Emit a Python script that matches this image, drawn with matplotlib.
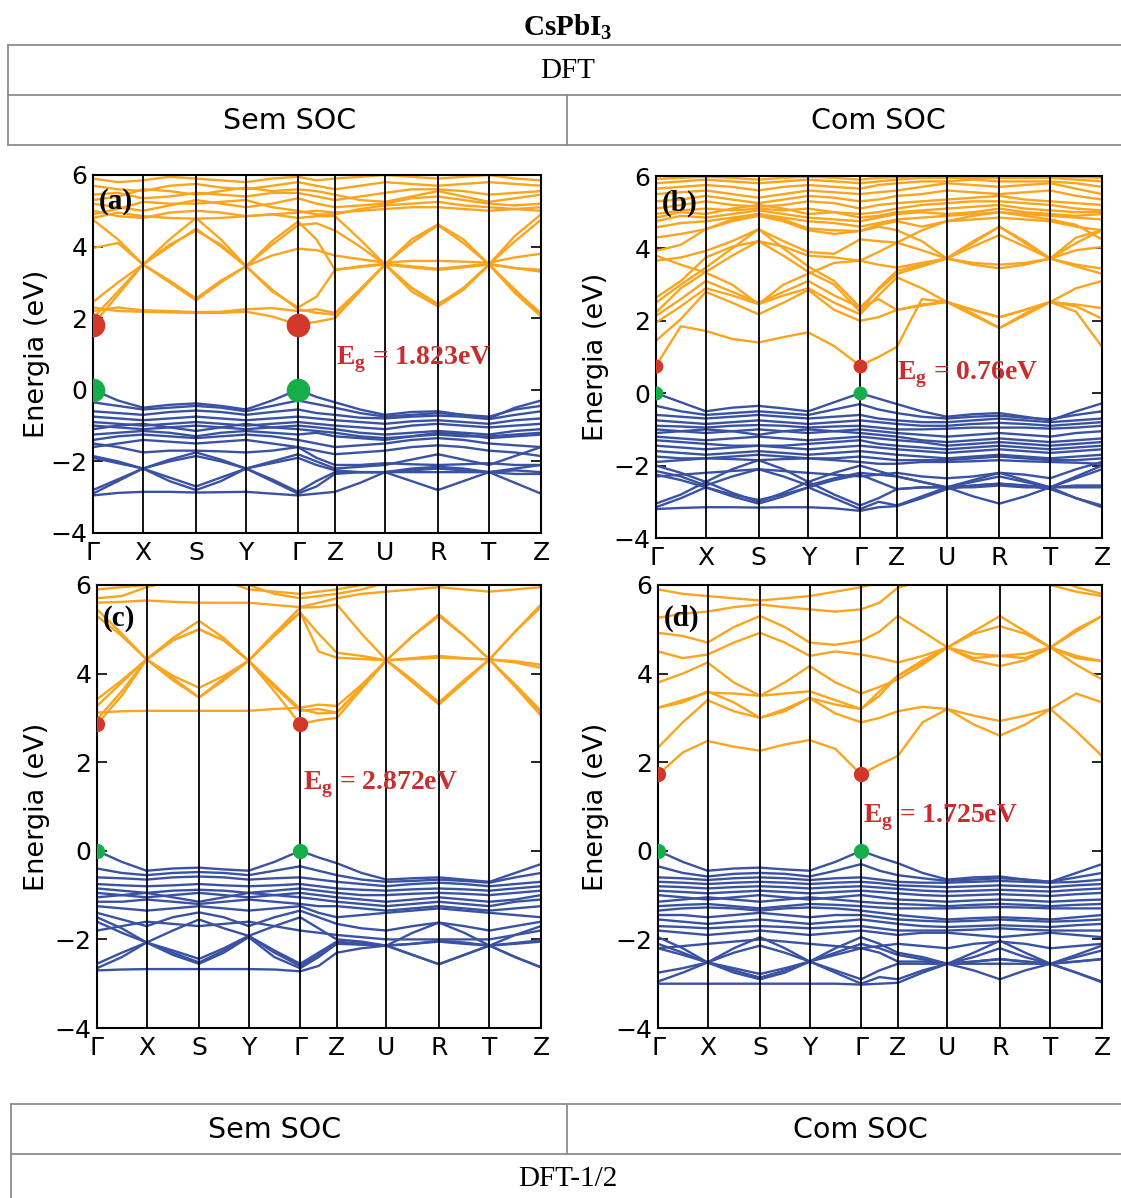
import numpy as np
import matplotlib.pyplot as plt
from matplotlib.lines import Line2D

plt.rcParams['mathtext.fontset'] = 'custom'
plt.rcParams['mathtext.rm'] = 'Liberation Serif'
plt.rcParams['mathtext.bf'] = 'Liberation Serif:bold'

# k-path (high symmetry points) and distances along the path
k_labels = ['Γ', 'X', 'S', 'Y', 'Γ', 'Z', 'U', 'R', 'T', 'Z']
k_nodes = [0, 50, 103, 153, 205, 242, 292, 345, 396, 448]

# band energies (eV) read at each node and half-way between nodes
# order: Γ m X m S m Y m Γ m Z m U m R m T m Z
cb_a = [
    [1.82, 2.65, 3.5, 3.0, 2.5, 3.0, 3.45, 2.75, 2.3, 2.6, 3.35, 3.43, 3.5, 3.42, 3.35, 3.42, 3.5, 3.4, 3.3],
    [2.0, 2.75, 3.5, 3.05, 2.55, 3.05, 3.45, 2.8, 2.25, 2.15, 2.1, 2.8, 3.5, 2.85, 2.38, 2.85, 3.5, 2.75, 2.15],
    [2.3, 2.2, 2.18, 2.16, 2.15, 2.15, 2.18, 2.05, 1.82, 1.9, 2.0, 2.75, 3.5, 2.75, 2.33, 2.8, 3.5, 2.7, 2.05],
    [2.45, 3.0, 3.5, 4.0, 4.5, 4.0, 3.45, 4.05, 4.6, 4.65, 4.45, 4.0, 3.5, 4.1, 4.6, 4.1, 3.5, 4.15, 4.75],
    [4.75, 4.2, 3.5, 4.2, 4.8, 4.2, 3.45, 4.15, 4.7, 4.2, 3.35, 3.45, 3.52, 3.45, 3.38, 3.45, 3.52, 3.4, 3.35],
    [3.96, 4.1, 3.5, 4.05, 4.45, 4.05, 3.45, 3.75, 3.94, 3.9, 3.75, 3.65, 3.55, 3.6, 3.6, 3.58, 3.55, 3.7, 3.8],
    [2.2, 2.3, 2.22, 2.2, 2.17, 2.18, 2.25, 2.28, 2.2, 2.25, 2.15, 2.8, 3.5, 2.85, 2.4, 2.8, 3.5, 2.8, 2.1],
    [4.8, 4.95, 4.85, 4.8, 4.78, 4.8, 4.85, 4.9, 4.8, 4.85, 4.85, 4.2, 3.5, 4.2, 4.62, 4.2, 3.5, 4.3, 4.9],
    [5.0, 4.85, 4.8, 4.95, 5.0, 4.95, 4.85, 4.9, 4.95, 5.0, 4.95, 5.0, 5.05, 5.1, 5.1, 5.05, 5.0, 5.05, 5.1],
    [5.2, 5.1, 5.0, 5.15, 5.3, 5.2, 5.1, 5.2, 5.35, 5.2, 5.1, 5.15, 5.2, 5.35, 5.4, 5.3, 5.2, 5.15, 5.2],
    [5.45, 5.5, 5.35, 5.4, 5.5, 5.45, 5.4, 5.5, 5.5, 5.4, 5.3, 5.4, 5.5, 5.6, 5.6, 5.55, 5.45, 5.5, 5.55],
    [5.7, 5.6, 5.55, 5.7, 5.75, 5.65, 5.6, 5.7, 5.8, 5.7, 5.6, 5.7, 5.8, 5.75, 5.7, 5.75, 5.8, 5.75, 5.7],
    [5.9, 5.8, 5.85, 5.95, 5.9, 5.85, 5.8, 5.9, 5.95, 5.85, 5.9, 5.95, 6.0, 5.95, 5.9, 5.95, 6.0, 5.9, 5.85],
    [5.3, 5.4, 5.6, 5.55, 5.45, 5.55, 5.65, 5.55, 5.6, 5.55, 5.45, 5.3, 5.25, 5.4, 5.55, 5.4, 5.25, 5.35, 5.45],
    [4.9, 5.05, 5.25, 5.2, 5.2, 5.25, 5.3, 5.1, 5.0, 4.9, 4.9, 5.05, 5.15, 5.2, 5.25, 5.15, 5.1, 5.05, 5.0],
]
vb_a = [
    [0, -0.3, -0.5, -0.42, -0.38, -0.45, -0.55, -0.3, 0, -0.2, -0.35, -0.55, -0.7, -0.62, -0.6, -0.7, -0.8, -0.5, -0.3],
    [-0.35, -0.45, -0.55, -0.5, -0.45, -0.5, -0.6, -0.45, -0.3, -0.4, -0.5, -0.65, -0.75, -0.7, -0.65, -0.7, -0.75, -0.55, -0.45],
    [-0.6, -0.65, -0.7, -0.62, -0.58, -0.62, -0.7, -0.62, -0.55, -0.65, -0.7, -0.78, -0.8, -0.75, -0.72, -0.75, -0.82, -0.7, -0.6],
    [-0.75, -0.8, -0.85, -0.8, -0.75, -0.8, -0.85, -0.8, -0.75, -0.8, -0.85, -0.9, -0.95, -0.88, -0.85, -0.9, -0.95, -0.85, -0.8],
    [-0.9, -0.95, -1.0, -0.95, -0.9, -0.95, -1.0, -0.95, -0.9, -0.95, -1.0, -1.05, -1.1, -1.0, -0.95, -1.0, -1.05, -1.0, -0.95],
    [-1.0, -1.05, -1.1, -1.05, -1.0, -1.05, -1.1, -1.05, -1.0, -1.05, -1.1, -1.2, -1.25, -1.2, -1.15, -1.2, -1.25, -1.15, -1.1],
    [-1.1, -1.0, -0.95, -1.05, -1.15, -1.05, -0.95, -1.05, -1.1, -1.15, -1.2, -1.3, -1.35, -1.3, -1.25, -1.3, -1.3, -1.25, -1.2],
    [-1.25, -1.2, -1.15, -1.2, -1.3, -1.2, -1.15, -1.2, -1.25, -1.2, -1.3, -1.35, -1.4, -1.3, -1.2, -1.25, -1.35, -1.3, -1.25],
    [-1.4, -1.3, -1.25, -1.3, -1.35, -1.3, -1.25, -1.3, -1.4, -1.5, -1.6, -1.55, -1.5, -1.4, -1.35, -1.4, -1.5, -1.55, -1.6],
    [-1.6, -1.5, -1.4, -1.45, -1.5, -1.45, -1.4, -1.5, -1.6, -1.7, -1.8, -1.75, -1.7, -1.6, -1.55, -1.6, -1.7, -1.75, -1.85],
    [-1.85, -2.0, -2.2, -1.95, -1.75, -1.95, -2.2, -2.0, -1.8, -2.0, -2.2, -2.15, -2.1, -1.95, -1.8, -1.95, -2.1, -1.85, -1.6],
    [-1.9, -2.05, -2.2, -2.0, -1.85, -2.0, -2.2, -2.05, -1.9, -2.1, -2.25, -2.3, -2.3, -2.55, -2.8, -2.55, -2.3, -2.6, -2.9],
    [-2.8, -2.5, -2.2, -2.45, -2.7, -2.45, -2.2, -2.5, -2.85, -2.55, -2.3, -2.3, -2.3, -2.2, -2.15, -2.2, -2.3, -2.2, -2.1],
    [-2.9, -2.55, -2.2, -2.55, -2.8, -2.55, -2.2, -2.55, -2.9, -2.7, -2.35, -2.3, -2.3, -2.25, -2.2, -2.25, -2.3, -2.25, -2.3],
    [-2.95, -2.88, -2.85, -2.85, -2.87, -2.86, -2.85, -2.9, -2.95, -2.9, -2.85, -2.6, -2.3, -2.3, -2.3, -2.3, -2.3, -2.35, -2.35],
    [-1.5, -1.6, -1.75, -1.7, -1.7, -1.72, -1.75, -1.7, -1.6, -1.9, -2.1, -2.1, -2.05, -2.08, -2.1, -2.08, -2.05, -2.1, -2.1],
]

cb_b = [
    [0.76, 1.85, 1.72, 1.5, 1.4, 1.55, 1.68, 1.3, 0.76, 1.0, 1.28, 2.6, 2.52, 2.15, 1.8, 2.15, 2.52, 2.25, 1.28],
    [1.45, 2.05, 2.8, 2.5, 2.18, 2.5, 2.85, 2.3, 2.0, 2.1, 2.3, 2.42, 2.52, 2.3, 2.1, 2.3, 2.52, 2.45, 2.35],
    [1.95, 2.4, 2.9, 2.7, 2.46, 2.7, 2.9, 2.5, 2.18, 2.7, 3.2, 2.9, 2.52, 2.3, 2.1, 2.3, 2.52, 2.9, 3.1],
    [2.14, 2.6, 3.1, 2.8, 2.5, 2.8, 3.1, 2.7, 2.37, 2.85, 3.3, 3.5, 3.72, 3.55, 3.45, 3.55, 3.72, 3.5, 3.3],
    [2.23, 2.9, 3.35, 3.8, 4.2, 3.8, 3.35, 3.0, 2.25, 2.9, 3.38, 3.55, 3.72, 3.6, 3.55, 3.6, 3.72, 3.55, 3.44],
    [2.5, 3.0, 3.47, 4.0, 4.53, 4.0, 3.5, 3.1, 2.37, 2.6, 2.3, 2.45, 2.52, 2.2, 1.8, 2.2, 2.52, 2.4, 2.06],
    [2.64, 3.1, 3.75, 4.05, 4.2, 4.05, 3.8, 3.75, 3.66, 3.55, 3.47, 3.6, 3.72, 4.2, 4.6, 4.2, 3.72, 4.3, 4.5],
    [3.66, 3.75, 3.93, 4.2, 4.53, 4.2, 3.9, 3.85, 4.25, 4.2, 4.16, 3.95, 3.72, 4.05, 4.37, 4.05, 3.72, 3.95, 4.04],
    [3.8, 3.55, 3.33, 3.0, 2.46, 3.0, 3.3, 3.6, 3.66, 3.9, 4.16, 4.5, 4.75, 4.8, 4.85, 4.8, 4.75, 4.6, 4.5],
    [3.93, 4.1, 4.53, 4.75, 4.9, 4.75, 4.5, 4.4, 4.48, 4.65, 4.75, 4.6, 4.75, 4.9, 5.0, 4.9, 4.8, 4.65, 4.25],
    [4.3, 4.4, 4.53, 4.8, 4.95, 4.8, 4.55, 4.5, 4.48, 4.6, 4.5, 4.2, 3.72, 4.15, 4.6, 4.15, 3.72, 4.15, 4.5],
    [4.58, 4.7, 4.75, 4.85, 4.95, 4.85, 4.75, 4.7, 4.6, 4.7, 4.8, 4.85, 4.9, 4.95, 5.0, 4.95, 4.9, 4.85, 4.8],
    [4.75, 4.9, 4.85, 4.95, 5.05, 4.95, 4.85, 4.8, 4.75, 4.85, 4.95, 5.0, 4.95, 5.0, 5.1, 5.0, 4.95, 4.9, 4.95],
    [4.95, 5.05, 5.1, 5.05, 5.1, 5.05, 5.1, 5.0, 4.95, 5.0, 5.1, 5.2, 5.25, 5.3, 5.3, 5.25, 5.2, 5.1, 5.05],
    [5.1, 5.2, 5.3, 5.2, 5.15, 5.2, 5.3, 5.25, 5.1, 5.2, 5.25, 5.3, 5.35, 5.4, 5.45, 5.35, 5.3, 5.25, 5.2],
    [5.3, 5.35, 5.45, 5.35, 5.25, 5.35, 5.45, 5.4, 5.3, 5.35, 5.45, 5.5, 5.6, 5.55, 5.5, 5.55, 5.6, 5.45, 5.35],
    [5.5, 5.55, 5.6, 5.5, 5.4, 5.5, 5.6, 5.55, 5.5, 5.55, 5.6, 5.7, 5.8, 5.75, 5.7, 5.75, 5.8, 5.65, 5.5],
    [5.65, 5.7, 5.75, 5.7, 5.6, 5.7, 5.75, 5.7, 5.65, 5.75, 5.8, 5.85, 5.85, 5.9, 5.85, 5.85, 5.85, 5.8, 5.7],
    [5.8, 5.85, 5.9, 5.85, 5.8, 5.85, 5.9, 5.85, 5.8, 5.85, 5.9, 5.95, 5.95, 5.95, 5.95, 5.95, 5.95, 5.9, 5.85],
    [5.92, 5.95, 5.98, 5.95, 5.9, 5.95, 5.98, 5.95, 5.9, 5.95, 5.97, 6.0, 5.98, 6.0, 5.98, 6.0, 5.98, 5.97, 5.95],
    [4.85, 5.0, 4.95, 5.1, 5.2, 5.1, 4.95, 5.0, 4.85, 4.9, 5.0, 5.05, 5.1, 5.15, 5.2, 5.1, 5.05, 5.0, 5.0],
]
vb_b = [
    [0, -0.25, -0.5, -0.4, -0.35, -0.42, -0.5, -0.25, 0, -0.15, -0.3, -0.5, -0.65, -0.58, -0.55, -0.65, -0.75, -0.5, -0.28],
    [-0.35, -0.5, -0.6, -0.55, -0.5, -0.55, -0.6, -0.45, -0.3, -0.45, -0.55, -0.65, -0.7, -0.65, -0.62, -0.68, -0.72, -0.6, -0.5],
    [-0.6, -0.65, -0.7, -0.65, -0.6, -0.65, -0.7, -0.65, -0.6, -0.7, -0.75, -0.8, -0.8, -0.75, -0.7, -0.75, -0.8, -0.75, -0.7],
    [-0.75, -0.8, -0.85, -0.8, -0.75, -0.8, -0.85, -0.8, -0.75, -0.8, -0.85, -0.9, -0.9, -0.85, -0.82, -0.85, -0.9, -0.85, -0.8],
    [-0.9, -0.92, -0.95, -0.9, -0.88, -0.9, -0.95, -0.92, -0.9, -0.95, -1.0, -1.0, -0.98, -0.95, -0.95, -0.95, -0.98, -0.95, -0.9],
    [-1.0, -1.05, -1.1, -1.05, -1.0, -1.05, -1.1, -1.05, -1.0, -1.05, -1.1, -1.15, -1.2, -1.15, -1.1, -1.15, -1.2, -1.1, -1.05],
    [-1.1, -1.05, -1.0, -1.05, -1.15, -1.05, -1.0, -1.05, -1.1, -1.15, -1.2, -1.3, -1.35, -1.3, -1.25, -1.3, -1.35, -1.3, -1.25],
    [-1.2, -1.25, -1.3, -1.25, -1.2, -1.25, -1.3, -1.25, -1.2, -1.25, -1.3, -1.35, -1.45, -1.4, -1.35, -1.4, -1.45, -1.4, -1.35],
    [-1.3, -1.35, -1.4, -1.45, -1.45, -1.45, -1.4, -1.35, -1.3, -1.4, -1.45, -1.5, -1.55, -1.5, -1.45, -1.5, -1.55, -1.5, -1.45],
    [-1.45, -1.5, -1.55, -1.5, -1.45, -1.5, -1.55, -1.5, -1.45, -1.5, -1.55, -1.6, -1.65, -1.6, -1.55, -1.6, -1.65, -1.6, -1.55],
    [-1.6, -1.65, -1.7, -1.65, -1.6, -1.65, -1.7, -1.65, -1.6, -1.65, -1.7, -1.75, -1.8, -1.75, -1.7, -1.75, -1.8, -1.75, -1.7],
    [-1.75, -1.8, -1.8, -1.75, -1.7, -1.75, -1.8, -1.8, -1.75, -1.8, -1.85, -1.85, -1.85, -1.8, -1.75, -1.8, -1.85, -1.85, -1.8],
    [-1.9, -1.85, -1.8, -1.82, -1.85, -1.82, -1.8, -1.85, -1.9, -1.95, -1.95, -1.9, -1.9, -1.88, -1.85, -1.88, -1.9, -1.92, -1.95],
    [-2.0, -2.2, -2.45, -2.1, -1.85, -2.1, -2.45, -2.2, -2.0, -2.15, -2.3, -2.45, -2.6, -2.4, -2.2, -2.4, -2.6, -2.3, -2.0],
    [-2.15, -2.3, -2.55, -2.3, -2.1, -2.3, -2.55, -2.35, -2.2, -2.25, -2.3, -2.45, -2.6, -2.45, -2.3, -2.45, -2.6, -2.35, -2.1],
    [-2.25, -2.4, -2.6, -2.8, -2.95, -2.8, -2.6, -2.4, -2.25, -2.45, -2.65, -2.6, -2.6, -2.85, -3.05, -2.85, -2.6, -2.9, -3.15],
    [-3.05, -2.8, -2.45, -2.75, -3.0, -2.75, -2.45, -2.8, -3.1, -2.9, -2.65, -2.6, -2.6, -2.55, -2.5, -2.55, -2.6, -2.55, -2.55],
    [-3.15, -2.9, -2.6, -2.85, -3.05, -2.85, -2.6, -2.9, -3.2, -3.0, -3.1, -2.85, -2.6, -2.6, -2.55, -2.6, -2.6, -2.6, -2.6],
    [-3.2, -3.17, -3.15, -3.15, -3.16, -3.15, -3.15, -3.18, -3.25, -3.15, -3.12, -2.9, -2.65, -2.55, -2.5, -2.55, -2.65, -2.9, -3.1],
    [-2.3, -2.25, -2.2, -2.15, -2.1, -2.15, -2.2, -2.25, -2.3, -2.25, -2.2, -2.3, -2.35, -2.3, -2.2, -2.25, -2.35, -2.1, -1.9],
]

cb_c = [
    [2.86, 3.5, 4.32, 3.85, 3.46, 3.85, 4.29, 3.6, 2.86, 2.95, 3.0, 3.65, 4.3, 3.8, 3.3, 3.8, 4.32, 3.7, 3.05],
    [2.97, 3.6, 4.32, 3.95, 3.68, 3.95, 4.29, 3.7, 3.16, 3.2, 3.12, 3.7, 4.3, 3.85, 3.35, 3.85, 4.32, 3.75, 3.16],
    [3.12, 3.15, 3.16, 3.16, 3.16, 3.16, 3.16, 3.2, 3.23, 3.3, 3.27, 3.75, 4.3, 3.85, 3.32, 3.85, 4.32, 3.72, 3.1],
    [3.27, 3.8, 4.32, 4.75, 5.0, 4.75, 4.29, 4.9, 5.38, 4.5, 4.36, 4.33, 4.3, 4.33, 4.36, 4.34, 4.32, 4.25, 4.13],
    [3.42, 3.85, 4.32, 4.8, 5.19, 4.8, 4.29, 4.9, 5.49, 5.5, 5.56, 4.9, 4.3, 4.85, 5.34, 4.85, 4.32, 4.95, 5.56],
    [5.45, 4.9, 4.32, 4.75, 5.0, 4.75, 4.29, 4.85, 5.38, 4.9, 4.47, 4.4, 4.3, 4.35, 4.4, 4.35, 4.32, 4.28, 4.2],
    [5.3, 4.85, 4.32, 3.9, 3.46, 3.9, 4.29, 3.75, 3.2, 3.1, 3.12, 3.7, 4.3, 4.85, 5.3, 4.85, 4.32, 4.95, 5.5],
    [5.6, 5.62, 5.65, 5.62, 5.6, 5.6, 5.6, 5.55, 5.5, 5.6, 5.7, 5.8, 5.85, 5.9, 5.95, 5.9, 5.85, 5.9, 5.95],
    [5.9, 5.95, 6.0, 6.05, 6.1, 6.05, 6.0, 5.8, 5.7, 5.75, 5.8, 5.9, 6.05, 6.1, 6.1, 6.1, 6.05, 6.0, 6.1],
    [5.7, 5.75, 5.95, 6.1, 6.2, 6.1, 5.9, 5.85, 5.8, 5.85, 5.9, 6.0, 6.1, 6.2, 6.2, 6.2, 6.1, 6.1, 6.2],
]
vb_c = [
    [0, -0.25, -0.45, -0.4, -0.38, -0.42, -0.45, -0.25, 0, -0.15, -0.28, -0.5, -0.65, -0.62, -0.6, -0.65, -0.7, -0.5, -0.3],
    [-0.4, -0.5, -0.55, -0.5, -0.48, -0.5, -0.55, -0.45, -0.35, -0.45, -0.55, -0.65, -0.7, -0.68, -0.65, -0.68, -0.72, -0.6, -0.5],
    [-0.6, -0.62, -0.65, -0.6, -0.58, -0.6, -0.65, -0.62, -0.6, -0.65, -0.7, -0.75, -0.8, -0.75, -0.72, -0.75, -0.8, -0.75, -0.7],
    [-0.75, -0.78, -0.8, -0.78, -0.75, -0.78, -0.8, -0.78, -0.75, -0.8, -0.85, -0.88, -0.9, -0.87, -0.85, -0.87, -0.9, -0.85, -0.8],
    [-0.85, -0.9, -0.95, -0.9, -0.88, -0.9, -0.95, -0.9, -0.85, -0.9, -0.95, -1.0, -1.0, -0.97, -0.95, -0.97, -1.0, -0.95, -0.9],
    [-0.95, -1.0, -1.05, -1.0, -0.95, -1.0, -1.05, -1.0, -0.95, -1.0, -1.05, -1.1, -1.15, -1.1, -1.05, -1.1, -1.15, -1.1, -1.0],
    [-1.05, -1.0, -0.95, -1.05, -1.15, -1.05, -0.95, -1.0, -1.05, -1.1, -1.15, -1.2, -1.25, -1.2, -1.15, -1.2, -1.25, -1.15, -1.1],
    [-1.15, -1.15, -1.1, -1.15, -1.2, -1.15, -1.1, -1.15, -1.2, -1.25, -1.25, -1.3, -1.35, -1.3, -1.25, -1.3, -1.35, -1.3, -1.25],
    [-1.25, -1.3, -1.35, -1.3, -1.25, -1.3, -1.35, -1.3, -1.25, -1.4, -1.5, -1.45, -1.4, -1.35, -1.3, -1.35, -1.4, -1.45, -1.5],
    [-1.4, -1.55, -1.7, -1.5, -1.39, -1.5, -1.7, -1.5, -1.35, -1.5, -1.65, -1.75, -1.8, -1.7, -1.62, -1.7, -1.8, -1.7, -1.6],
    [-1.5, -1.75, -2.07, -1.8, -1.55, -1.75, -1.92, -1.7, -1.5, -1.75, -2.0, -2.05, -2.14, -1.85, -1.62, -1.85, -2.14, -1.9, -1.7],
    [-1.6, -1.85, -2.07, -2.25, -2.44, -2.2, -1.92, -2.25, -2.55, -2.3, -2.05, -2.1, -2.14, -2.35, -2.56, -2.35, -2.14, -2.4, -2.63],
    [-2.55, -2.3, -2.07, -2.3, -2.52, -2.25, -1.92, -2.3, -2.6, -2.35, -2.07, -2.1, -2.14, -2.1, -2.03, -2.07, -2.14, -2.1, -2.05],
    [-2.65, -2.4, -2.07, -2.35, -2.55, -2.3, -1.95, -2.4, -2.65, -2.4, -2.1, -2.12, -2.14, -2.1, -2.05, -2.1, -2.14, -2.08, -2.02],
    [-2.7, -2.68, -2.67, -2.67, -2.67, -2.67, -2.67, -2.68, -2.72, -2.6, -2.3, -2.2, -2.14, -2.35, -2.56, -2.35, -2.14, -2.4, -2.63],
    [-1.8, -1.7, -1.6, -1.65, -1.7, -1.65, -1.6, -1.7, -1.8, -1.85, -1.9, -1.95, -2.0, -2.0, -2.0, -2.0, -2.0, -1.9, -1.8],
]

cb_d = [
    [1.72, 2.22, 2.48, 2.35, 2.26, 2.4, 2.5, 2.3, 1.72, 1.95, 2.14, 2.9, 3.2, 2.85, 2.6, 2.85, 3.2, 2.7, 2.14],
    [2.33, 2.9, 3.4, 3.15, 3.0, 3.15, 3.45, 3.1, 2.9, 3.0, 3.15, 3.25, 3.2, 3.05, 2.93, 3.05, 3.2, 3.55, 3.35],
    [3.23, 3.4, 3.57, 3.55, 3.5, 3.55, 3.6, 3.4, 3.2, 3.6, 3.95, 4.25, 4.59, 4.45, 4.4, 4.45, 4.59, 4.4, 4.28],
    [3.8, 4.0, 4.25, 3.8, 3.5, 3.8, 4.17, 3.8, 3.55, 3.7, 3.87, 4.2, 4.59, 4.3, 4.17, 4.3, 4.59, 4.2, 3.87],
    [4.5, 4.35, 4.43, 4.7, 4.92, 4.7, 4.4, 4.5, 4.43, 4.35, 4.25, 4.4, 4.59, 4.9, 5.07, 4.9, 4.59, 4.95, 5.3],
    [4.92, 4.85, 4.7, 5.05, 5.3, 5.05, 4.7, 4.65, 4.74, 4.95, 5.3, 4.95, 4.59, 4.95, 5.3, 4.95, 4.59, 5.0, 5.3],
    [5.26, 5.35, 5.4, 5.5, 5.56, 5.5, 5.45, 5.4, 5.45, 5.6, 5.94, 6.1, 6.2, 6.2, 6.2, 6.1, 6.0, 5.85, 5.75],
    [5.9, 5.8, 5.75, 5.7, 5.65, 5.7, 5.75, 5.85, 5.95, 6.05, 6.1, 6.2, 6.2, 6.2, 6.2, 6.2, 6.2, 5.95, 5.8],
    [3.23, 3.35, 3.6, 3.35, 3.0, 3.2, 3.45, 3.3, 3.2, 3.5, 3.95, 4.3, 4.59, 4.35, 4.4, 4.35, 4.59, 4.35, 4.28],
]
vb_d = [
    [0, -0.25, -0.45, -0.4, -0.38, -0.42, -0.45, -0.25, 0, -0.15, -0.28, -0.5, -0.65, -0.6, -0.58, -0.65, -0.7, -0.5, -0.3],
    [-0.35, -0.5, -0.58, -0.52, -0.5, -0.52, -0.58, -0.45, -0.3, -0.45, -0.55, -0.62, -0.68, -0.65, -0.62, -0.65, -0.7, -0.6, -0.5],
    [-0.6, -0.62, -0.66, -0.62, -0.6, -0.62, -0.66, -0.62, -0.6, -0.65, -0.7, -0.72, -0.72, -0.7, -0.68, -0.7, -0.72, -0.7, -0.65],
    [-0.7, -0.72, -0.75, -0.72, -0.7, -0.72, -0.75, -0.72, -0.7, -0.73, -0.78, -0.8, -0.82, -0.8, -0.78, -0.8, -0.82, -0.78, -0.75],
    [-0.8, -0.82, -0.85, -0.82, -0.8, -0.82, -0.85, -0.82, -0.8, -0.83, -0.86, -0.9, -0.92, -0.9, -0.88, -0.9, -0.92, -0.88, -0.85],
    [-0.9, -0.93, -0.96, -0.93, -0.9, -0.93, -0.96, -0.93, -0.9, -0.93, -0.96, -1.0, -1.02, -1.0, -0.98, -1.0, -1.02, -0.98, -0.95],
    [-1.0, -1.05, -1.1, -1.05, -1.0, -1.05, -1.1, -1.05, -1.0, -1.05, -1.1, -1.12, -1.15, -1.12, -1.1, -1.12, -1.15, -1.12, -1.1],
    [-1.15, -1.1, -1.05, -1.1, -1.15, -1.1, -1.05, -1.1, -1.15, -1.18, -1.2, -1.22, -1.25, -1.22, -1.2, -1.22, -1.25, -1.22, -1.2],
    [-1.25, -1.22, -1.2, -1.25, -1.3, -1.25, -1.2, -1.22, -1.25, -1.28, -1.3, -1.3, -1.3, -1.28, -1.27, -1.28, -1.3, -1.3, -1.3],
    [-1.35, -1.3, -1.28, -1.3, -1.35, -1.3, -1.28, -1.3, -1.35, -1.4, -1.45, -1.5, -1.55, -1.52, -1.5, -1.52, -1.55, -1.5, -1.45],
    [-1.55, -1.6, -1.65, -1.6, -1.55, -1.6, -1.65, -1.6, -1.55, -1.6, -1.65, -1.7, -1.72, -1.7, -1.68, -1.7, -1.72, -1.68, -1.65],
    [-1.7, -1.72, -1.75, -1.72, -1.7, -1.72, -1.75, -1.72, -1.7, -1.75, -1.8, -1.8, -1.8, -1.78, -1.75, -1.78, -1.8, -1.8, -1.8],
    [-1.8, -1.85, -1.9, -1.85, -1.8, -1.85, -1.9, -1.85, -1.8, -1.85, -1.9, -1.85, -1.85, -1.9, -1.95, -1.9, -1.85, -1.9, -1.95],
    [-1.95, -2.2, -2.52, -2.2, -1.95, -2.2, -2.5, -2.2, -1.95, -2.1, -2.3, -2.4, -2.55, -2.3, -2.03, -2.3, -2.55, -2.35, -2.14],
    [-2.1, -2.3, -2.52, -2.3, -2.14, -2.3, -2.5, -2.3, -2.1, -2.2, -2.35, -2.45, -2.55, -2.4, -2.2, -2.4, -2.55, -2.4, -2.25],
    [-2.2, -2.35, -2.52, -2.65, -2.78, -2.65, -2.5, -2.35, -2.2, -2.3, -2.5, -2.5, -2.55, -2.7, -2.9, -2.7, -2.55, -2.75, -2.97],
    [-2.75, -2.65, -2.52, -2.7, -2.86, -2.7, -2.5, -2.7, -2.9, -2.7, -2.55, -2.55, -2.55, -2.5, -2.44, -2.5, -2.55, -2.5, -2.44],
    [-2.95, -2.75, -2.52, -2.75, -2.9, -2.75, -2.5, -2.75, -3.0, -2.85, -2.9, -2.7, -2.55, -2.5, -2.45, -2.5, -2.55, -2.5, -2.45],
    [-3.0, -3.0, -3.0, -3.0, -3.0, -3.0, -3.0, -3.0, -3.02, -3.0, -2.98, -2.75, -2.55, -2.55, -2.55, -2.55, -2.55, -2.75, -2.95],
    [-2.2, -2.15, -2.1, -2.05, -2.0, -2.05, -2.1, -2.15, -2.2, -2.15, -2.1, -2.15, -2.2, -2.1, -2.05, -2.1, -2.2, -2.15, -2.1],
    [-1.45, -1.45, -1.5, -1.45, -1.4, -1.45, -1.5, -1.45, -1.45, -1.5, -1.55, -1.58, -1.6, -1.58, -1.55, -1.58, -1.6, -1.58, -1.55],
]

panel_tags = ['(a)', '(b)', '(c)', '(d)']
gaps = [1.823, 0.76, 2.872, 1.725]
gap_texts = ['1.823eV', '0.76eV', '2.872eV', '1.725eV']

ORANGE = '#FBA41E'
BLUE = '#3A52A4'
RED = '#D2382A'
GREEN = '#16AE4B'
TXT_RED = '#C92E2E'

W, H = 1121, 1198
fig = plt.figure(figsize=(W / 100, H / 100), dpi=100)


def fx(x):
    return x / W


def fy(y):
    return 1 - y / H


# axes boxes in pixels: left, top, right, bottom
boxes = [(93, 175, 541, 533), (656, 176, 1102, 538),
         (97, 585, 541, 1028), (658, 585, 1102, 1028)]
label_x = [-0.096, -0.106, -0.106, -0.111]
gap_pos = [(0.542, 0.483), (0.54, 0.45), (0.464, 0.549), (0.462, 0.474)]
dot_ms = [16, 9, 10, 10]

nodes = np.array(k_nodes, dtype=float)
kpts = np.empty(2 * len(nodes) - 1)
kpts[0::2] = nodes
kpts[1::2] = (nodes[:-1] + nodes[1:]) / 2

all_cb = [cb_a, cb_b, cb_c, cb_d]
all_vb = [vb_a, vb_b, vb_c, vb_d]

for i in range(4):
    l, t, r, b = boxes[i]
    ax = fig.add_axes([fx(l), fy(b), (r - l) / W, (b - t) / H])
    for band in all_cb[i]:
        ax.plot(kpts, band, color=ORANGE, lw=1.7, solid_joinstyle='round', zorder=2)
    for band in all_vb[i]:
        ax.plot(kpts, band, color=BLUE, lw=1.7, solid_joinstyle='round', zorder=2)
    for xn in nodes[1:-1]:
        ax.axvline(xn, color='black', lw=1.3, zorder=3)
    ax.plot([nodes[0], nodes[4]], [gaps[i], gaps[i]], 'o', color=RED, ms=dot_ms[i], zorder=5)
    ax.plot([nodes[0], nodes[4]], [0, 0], 'o', color=GREEN, ms=dot_ms[i], zorder=5)

    ax.set_xlim(nodes[0], nodes[-1])
    ax.set_ylim(-4, 6)
    ax.set_yticks([-4, -2, 0, 2, 4, 6])
    ax.set_xticks(nodes)
    ax.set_xticklabels(k_labels)
    ax.tick_params(axis='y', direction='in', left=True, right=True, length=7,
                   width=1.2, labelsize=18, pad=4)
    ax.tick_params(axis='x', length=0, labelsize=18, pad=6)
    for s in ax.spines.values():
        s.set_linewidth(1.5)
    ax.set_ylabel('Energia (eV)', fontsize=19.5)
    ax.yaxis.set_label_coords(label_x[i], 0.5)

    ax.text(0.012, 0.925, panel_tags[i], transform=ax.transAxes, fontsize=21,
            fontweight='bold', family='Liberation Serif', va='center', ha='left', zorder=6)
    gx, gy = gap_pos[i]
    ax.text(gx, gy, r'E$_\mathbf{g}$ = ' + gap_texts[i], transform=ax.transAxes,
            fontsize=20, fontweight='bold', family='Liberation Serif', color=TXT_RED,
            va='center', ha='left', zorder=6)

# header / footer tables
GRID = '#8c8c8c'


def hline(y, x0, x1):
    fig.add_artist(Line2D([fx(x0), fx(x1)], [fy(y), fy(y)], color=GRID, lw=1.3))


def vline(x, y0, y1):
    fig.add_artist(Line2D([fx(x), fx(x)], [fy(y0), fy(y1)], color=GRID, lw=1.3))


hline(45, 8, W)
hline(95, 8, W)
hline(145, 8, W)
vline(8, 45, 145)
vline(567, 95, 145)

hline(1104, 11, W)
hline(1154, 11, W)
vline(11, 1104, H)
vline(567, 1104, 1154)

fig.text(fx(568), fy(27), r'CsPbI$_\mathbf{3}$', fontsize=21, fontweight='bold',
         family='Liberation Serif', ha='center', va='center')
fig.text(fx(568), fy(71), 'DFT', fontsize=21, family='Liberation Serif',
         ha='center', va='center')
fig.text(fx(290), fy(121), 'Sem SOC', fontsize=20.5, ha='center', va='center')
fig.text(fx(878), fy(121), 'Com SOC', fontsize=20.5, ha='center', va='center')
fig.text(fx(275), fy(1130), 'Sem SOC', fontsize=20.5, ha='center', va='center')
fig.text(fx(860), fy(1130), 'Com SOC', fontsize=20.5, ha='center', va='center')
fig.text(fx(568), fy(1179), 'DFT-1/2', fontsize=21, family='Liberation Serif',
         ha='center', va='center')

fig.savefig('out.png', dpi=100)
